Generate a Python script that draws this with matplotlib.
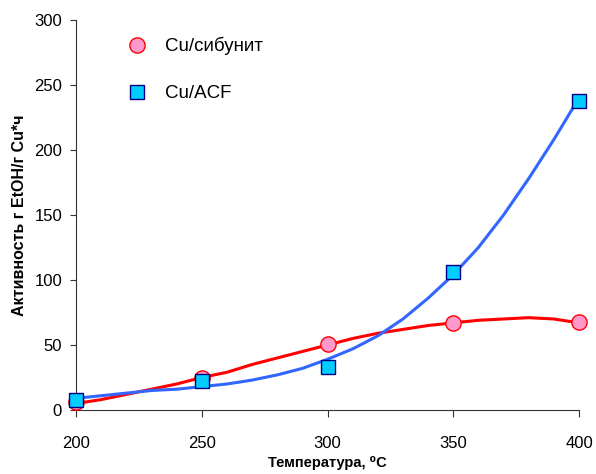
import matplotlib.pyplot as plt
import numpy as np

plt.rcParams['font.family'] = ['Liberation Sans', 'DejaVu Sans']

# measured points
temp = [200, 250, 300, 350, 400]
sibunit = [6, 25, 51, 67, 68]
acf = [8, 22, 33, 106, 238]

# smoothed curves
curve_t = [200, 210, 220, 230, 240, 250, 260, 270, 280, 290, 300,
           310, 320, 330, 340, 350, 360, 370, 380, 390, 400]
curve_sibunit = [5, 8, 12, 16, 20, 25, 29, 35, 40, 45, 50,
                 55, 59, 62, 65, 67, 69, 70, 71, 70, 67]
curve_acf = [9, 11, 13, 15, 16, 18, 20, 23, 27, 32, 39,
             47, 57, 70, 86, 104, 125, 150, 178, 208, 240]

fig = plt.figure(figsize=(5.96, 4.74), dpi=100)
ax = fig.add_axes([0.1275, 0.135, 0.844, 0.823])

ax.plot(curve_t, curve_sibunit, color='#ff0000', lw=2.2, zorder=2)
ax.plot(curve_t, curve_acf, color='#3366ff', lw=2.2, zorder=2)
ax.plot(temp, sibunit, 'o', ms=11, mfc='#ff99cc', mec='#ff0000', mew=1,
        label='Cu/сибунит', clip_on=False, zorder=3)
ax.plot(temp, acf, 's', ms=9.5, mfc='#00ccff', mec='#000080', mew=1,
        label='Cu/ACF', clip_on=False, zorder=3)

ax.set_xlim(200, 400)
ax.set_ylim(0, 300)
ax.set_xticks([200, 250, 300, 350, 400])
ax.set_yticks(range(0, 301, 50))
for s in ['top', 'right']:
    ax.spines[s].set_visible(False)
for s in ['left', 'bottom']:
    ax.spines[s].set_color('#333333')
ax.tick_params(axis='x', labelsize=12, length=5, pad=14, color='#333333')
ax.tick_params(axis='y', labelsize=12, length=4, pad=6, color='#333333')

ax.set_xlabel('Температура, \u2070C', fontsize=10.5, fontweight='bold', labelpad=3)
ax.set_ylabel('Активность г EtOH/г Cu*ч', fontsize=11.5, fontweight='bold', labelpad=5)

ax.legend(loc='upper left', bbox_to_anchor=(0.05, 1.0), frameon=False,
          fontsize=13.5, labelspacing=1.6, handletextpad=0.5, numpoints=1)

fig.savefig('out.png', dpi=100)
